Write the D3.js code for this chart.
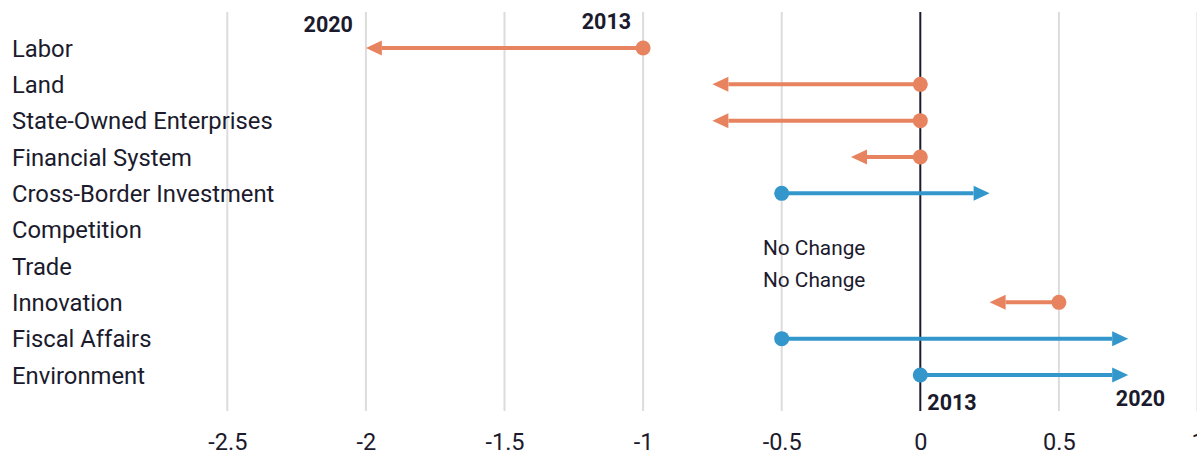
<!DOCTYPE html>
<html><head><meta charset="utf-8">
<script src="https://cdn.jsdelivr.net/npm/d3@7"></script>
<style>body{margin:0;background:#fff}svg{display:block}</style>
</head><body><svg id="c" width="1197" height="452"></svg>
<script>
const categories = ["Labor","Land","State-Owned Enterprises","Financial System","Cross-Border Investment","Competition","Trade","Innovation","Fiscal Affairs","Environment"];
const start2013 = [-1, 0, 0, 0, -0.5, null, null, 0.5, -0.5, 0];
const end2020 = [-2, -0.75, -0.75, -0.25, 0.25, null, null, 0.25, 0.75, 0.75];
const tickValues = [-2.5, -2, -1.5, -1, -0.5, 0, 0.5, 1];
const tickLabels = ["-2.5","-2","-1.5","-1","-0.5","0","0.5","1"];

(function(){
const svg = d3.select("#c");
const font = "Roboto, sans-serif";
const textCol = "#1b1b2d";
const orange = "#e8835f", blue = "#3397cc";

const x = d3.scaleLinear().domain([-3.32, 1]).range([0, 1197.5]);
const y = d3.scalePoint().domain(categories).range([48, 375]);
const yTop = 12, yBot = 411;

// grid
svg.append("g").selectAll("line").data(tickValues.filter(v => v !== 0)).join("line")
  .attr("x1", d => x(d)).attr("x2", d => x(d)).attr("y1", yTop).attr("y2", yBot)
  .attr("stroke", "#dcdcdc").attr("stroke-width", 2);

// axis labels
const axis = d3.axisBottom(x).tickValues(tickValues).tickFormat((d,i) => tickLabels[i]).tickSize(0).tickPadding(0);
const ag = svg.append("g").attr("transform", `translate(0,${yBot})`).call(axis);
ag.select(".domain").remove();
ag.selectAll("text").attr("y", 38.5).attr("dy", 0).attr("font-family", font).attr("font-size", 23.5).attr("fill", textCol);

// zero line
svg.append("line").attr("x1", x(0)).attr("x2", x(0)).attr("y1", yTop).attr("y2", yBot)
  .attr("stroke", textCol).attr("stroke-width", 2);

// category labels
svg.append("g").selectAll("text").data(categories).join("text")
  .attr("x", 12).attr("y", d => y(d) + 8.5).text(d => d)
  .attr("font-family", font).attr("font-size", 23.8).attr("fill", textCol);

// arrows
const rows = categories.map((c, i) => ({c, s: start2013[i], e: end2020[i]})).filter(d => d.s !== null);
const g = svg.append("g");
rows.forEach(d => {
  const col = d.e < d.s ? orange : blue;
  const dir = d.e < d.s ? -1 : 1;
  const xs = x(d.s), xe = x(d.e), yy = y(d.c);
  const hl = 16, hw = 7.5;
  g.append("line").attr("x1", xs).attr("x2", xe - dir * hl).attr("y1", yy).attr("y2", yy)
    .attr("stroke", col).attr("stroke-width", 4);
  g.append("path").attr("d", `M${xe},${yy}L${xe - dir*hl},${yy - hw}L${xe - dir*hl},${yy + hw}Z`).attr("fill", col);
  g.append("circle").attr("cx", xs).attr("cy", yy).attr("r", 7.5).attr("fill", col);
});

// no change labels
const noChange = categories.filter((c, i) => start2013[i] === null);
noChange.forEach((c, k) => {
  svg.append("text").attr("x", 763).attr("y", y(noChange[0]) + 25 + k * 32).text("No Change")
    .attr("font-family", font).attr("font-size", 20.8).attr("fill", textCol);
});

// year annotations
const ann = [
  {t: "2020", v: end2020[0], dx: -13, y: 32, anchor: "end"},
  {t: "2013", v: start2013[0], dx: -12, y: 29, anchor: "end"},
  {t: "2013", v: start2013[9], dx: 7, y: 410, anchor: "start"},
  {t: "2020", v: end2020[9], dx: 37, y: 406, anchor: "end"}
];
svg.append("g").selectAll("text").data(ann).join("text")
  .attr("x", d => x(d.v) + d.dx).attr("y", d => d.y).attr("text-anchor", d => d.anchor)
  .text(d => d.t).attr("font-family", font).attr("font-weight", "bold").attr("font-size", 21.5).attr("fill", textCol);
})();
</script></body></html>
